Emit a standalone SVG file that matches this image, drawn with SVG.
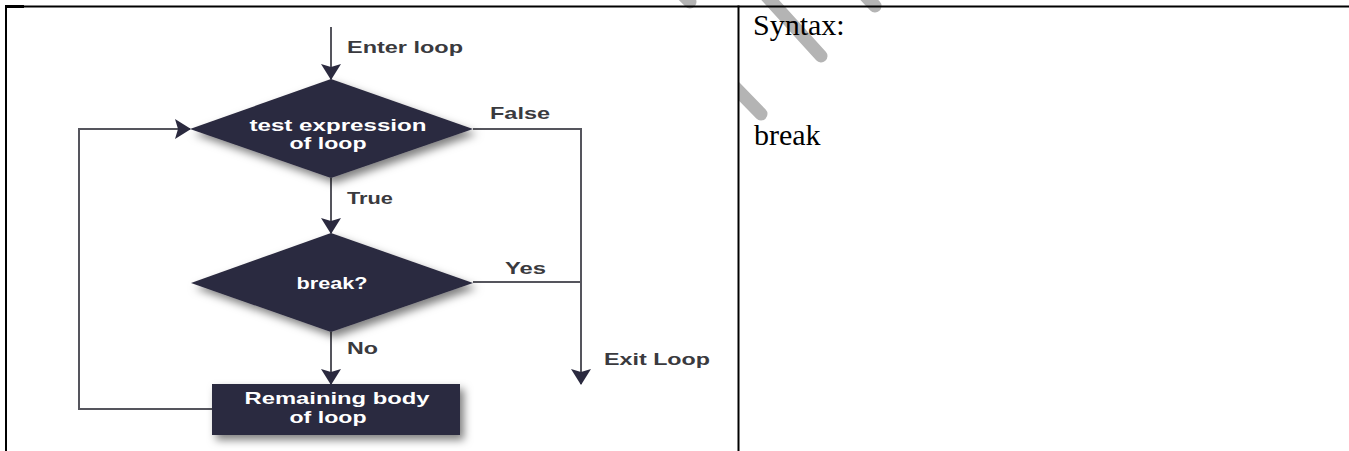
<svg xmlns="http://www.w3.org/2000/svg" width="1349" height="451" viewBox="0 0 1349 451">
  <style>
    .node { fill: #2b2a3f; }
    .node-text { font-family: "Liberation Sans", Arial, sans-serif; font-weight: bold; font-size: 16.5px; fill: #ffffff; }
    .label { font-family: "Liberation Sans", Arial, sans-serif; font-weight: bold; font-size: 16.5px; fill: #3a3a3e; }
    .wire { fill: none; stroke: #55555d; stroke-width: 2; }
    .rule { stroke: #000000; stroke-width: 2; }
    .cell-text { font-family: "Liberation Serif", "Times New Roman", serif; font-size: 30px; fill: #000000; }
    .mark { fill: none; stroke: #b4b4b4; stroke-width: 13; stroke-linecap: round; }
  </style>
  <defs>
    <marker id="arrow" viewBox="0 0 16 20" refX="15" refY="10" markerWidth="16" markerHeight="20" markerUnits="userSpaceOnUse" orient="auto">
      <path d="M0,0 L16,10 L0,20 L3,10 Z" fill="#2b2a3f"/>
    </marker>
    <filter id="shadow" x="-20%" y="-20%" width="150%" height="160%">
      <feDropShadow dx="4" dy="5" stdDeviation="4" flood-color="#000000" flood-opacity="0.5"/>
    </filter>
    <clipPath id="rightCell">
      <rect x="739" y="0" width="610" height="451"/>
    </clipPath>
  </defs>

  <rect x="0" y="0" width="1349" height="451" fill="#ffffff"/>

  <!-- background bars -->
  <g id="bars">
    <line class="mark" x1="674" y1="-14" x2="690" y2="2"/>
    <line class="mark" x1="761" y1="-10" x2="821" y2="56"/>
    <line class="mark" x1="858" y1="-12" x2="875" y2="6"/>
    <line class="mark" x1="728" y1="80" x2="761" y2="114" clip-path="url(#rightCell)"/>
  </g>

  <!-- table rules -->
  <g id="table">
    <line class="rule" x1="5" y1="6.5" x2="1349" y2="6.5"/>
    <rect x="5" y="5" width="19" height="3" fill="#000000"/>
    <line class="rule" x1="6" y1="5.5" x2="6" y2="451"/>
    <line class="rule" x1="738.5" y1="5.5" x2="738.5" y2="451"/>
  </g>

  <!-- connectors -->
  <g id="connectors">
    <line class="wire" x1="331" y1="27" x2="331" y2="79" marker-end="url(#arrow)"/>
    <line class="wire" x1="331" y1="178" x2="331" y2="233" marker-end="url(#arrow)"/>
    <line class="wire" x1="331" y1="332" x2="331" y2="384" marker-end="url(#arrow)"/>
    <polyline class="wire" points="473,129 581,129 581,384" marker-end="url(#arrow)"/>
    <line class="wire" x1="473" y1="282" x2="581" y2="282"/>
    <polyline class="wire" points="212,409 79,409 79,129 190,129" marker-end="url(#arrow)"/>
  </g>

  <!-- connector labels -->
  <g id="labels">
    <text class="label" x="347" y="53" textLength="116" lengthAdjust="spacingAndGlyphs">Enter loop</text>
    <text class="label" x="490" y="119" textLength="60" lengthAdjust="spacingAndGlyphs">False</text>
    <text class="label" x="347" y="204" textLength="46" lengthAdjust="spacingAndGlyphs">True</text>
    <text class="label" x="505" y="274" textLength="41" lengthAdjust="spacingAndGlyphs">Yes</text>
    <text class="label" x="347" y="354" textLength="31" lengthAdjust="spacingAndGlyphs">No</text>
    <text class="label" x="604" y="365" textLength="106" lengthAdjust="spacingAndGlyphs">Exit Loop</text>
  </g>

  <g id="test-expression">
    <polygon class="node" filter="url(#shadow)" points="190,129 331,79 473,129 331,178"/>
    <text class="node-text" x="338" y="131" text-anchor="middle" textLength="177" lengthAdjust="spacingAndGlyphs">test expression</text>
    <text class="node-text" x="328" y="149" text-anchor="middle" textLength="77" lengthAdjust="spacingAndGlyphs">of loop</text>
  </g>

  <g id="break-check">
    <polygon class="node" filter="url(#shadow)" points="191,283 331,233 473,283 331,332"/>
    <text class="node-text" x="332" y="289" text-anchor="middle" textLength="71" lengthAdjust="spacingAndGlyphs">break?</text>
  </g>

  <g id="remaining-body">
    <rect class="node" filter="url(#shadow)" x="212" y="384" width="248" height="51"/>
    <text class="node-text" x="337" y="404" text-anchor="middle" textLength="185" lengthAdjust="spacingAndGlyphs">Remaining body</text>
    <text class="node-text" x="328" y="423" text-anchor="middle" textLength="77" lengthAdjust="spacingAndGlyphs">of loop</text>
  </g>

  <!-- right cell -->
  <g id="syntax-cell">
    <text class="cell-text" x="753" y="35">Syntax:</text>
    <text class="cell-text" x="754" y="145">break</text>
  </g>
</svg>
